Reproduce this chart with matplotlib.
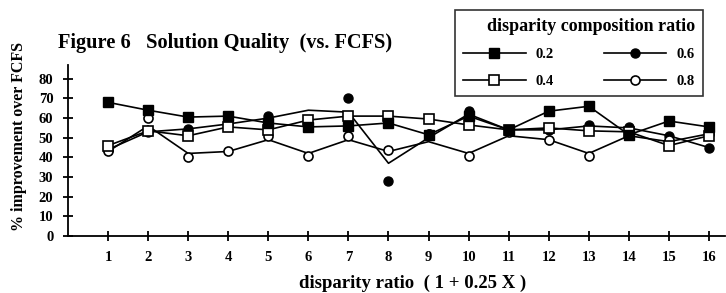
import matplotlib
matplotlib.use("Agg")
import matplotlib.pyplot as plt
from matplotlib.lines import Line2D

plt.rcParams["font.family"] = ["Liberation Serif", "DejaVu Serif"]
plt.rcParams["font.weight"] = "bold"

# disparity ratio index
x = list(range(1, 17))

# marker values (% improvement over FCFS)
q02 = [68, 64, 60.5, 61, 57.5, 55.5, 56, 57.5, 51.5, 61, 54, 63.5, 66, 51.5, 58.5, 55.5]
q04 = [46, 53.5, 51, 55.5, 54, 59, 61, 61, 59.5, 56.5, 54, 55, 53.5, 53, 46, 51]
q06 = [44, 53, 54.5, 57, 61, 56, 70, 28, 52, 63.5, 54, 54, 56.5, 55.5, 51, 45]
q08 = [43, 60, 40, 43, 51, 40.5, 51, 44, 52, 40.5, 53, 49, 40.5, 52, 49, 52]

# the fitted curves drawn through the points (do not pass every marker)
line02 = q02
line04 = q04
line06 = [44, 53, 54.5, 57, 60, 64, 63, 37, 50, 62, 54, 54, 56, 55, 51, 45]
line08 = [43, 56, 42, 43, 49, 42, 49, 43, 48, 42, 51, 49, 42, 51, 48, 52]

labels = ["0.2", "0.4", "0.6", "0.8"]

fig = plt.figure(figsize=(7.26, 2.93), dpi=100)
ax = fig.add_axes([68 / 726, 1 - 236 / 293, 657 / 726, 171 / 293])

lw = 1.2
ms = 6.5
styles = {
    "0.2": dict(marker="s", mfc="black", mec="black"),
    "0.4": dict(marker="s", mfc="white", mec="black", mew=1.2),
    "0.6": dict(marker="o", mfc="black", mec="black"),
    "0.8": dict(marker="o", mfc="white", mec="black", mew=1.2),
}

series = [("0.6", q06, line06, 2), ("0.8", q08, line08, 3),
          ("0.4", q04, line04, 4), ("0.2", q02, line02, 5)]
for name, pts, ln, z in series:
    ax.plot(x, ln, color="black", lw=lw, zorder=z)
    ax.plot(x, pts, ls="none", ms=ms, zorder=z + 0.5, **styles[name])

ax.set_xlim(0, 16.4)
ax.set_ylim(0, 87)
ax.set_xticks(x)
ax.set_yticks(range(0, 81, 10))
for s in ["top", "right"]:
    ax.spines[s].set_visible(False)
for s in ["left", "bottom"]:
    ax.spines[s].set_linewidth(1.3)
ax.tick_params(direction="inout", length=7, width=1.3, labelsize=10.5)
ax.tick_params(axis="y", pad=7)
ax.tick_params(axis="x", pad=7)

ax.set_ylabel("% improvement over FCFS", fontsize=11.5, fontweight="bold")
ax.yaxis.set_label_coords(-0.063, 0.58)
ax.set_xlabel("disparity ratio  ( 1 + 0.25 X )", fontsize=13.5, fontweight="bold")
ax.xaxis.set_label_coords(0.525, -0.225)

fig.text(58 / 726, 1 - 43 / 293, "Figure 6   Solution Quality  (vs. FCFS)",
         fontsize=14.7, fontweight="bold", va="center", ha="left")

handles = []
for name in labels:
    handles.append(Line2D([], [], color="black", lw=lw, ms=ms, **styles[name]))

leg = fig.legend(handles, labels, ncol=2, loc="upper left",
                 bbox_to_anchor=(455 / 726, 1 - 10 / 293), borderaxespad=0,
                 title="disparity composition ratio",
                 title_fontproperties={"size": 13, "weight": "bold"},
                 prop={"size": 10.5, "weight": "bold"},
                 frameon=True, fancybox=False, edgecolor="black",
                 handlelength=4.3, handletextpad=0.7, columnspacing=3.4,
                 labelspacing=0.9, borderpad=0.55, markerfirst=True)
leg.get_frame().set_linewidth(1.2)
leg._legend_box.align = "right"

fig.savefig("out.png", dpi=100)
